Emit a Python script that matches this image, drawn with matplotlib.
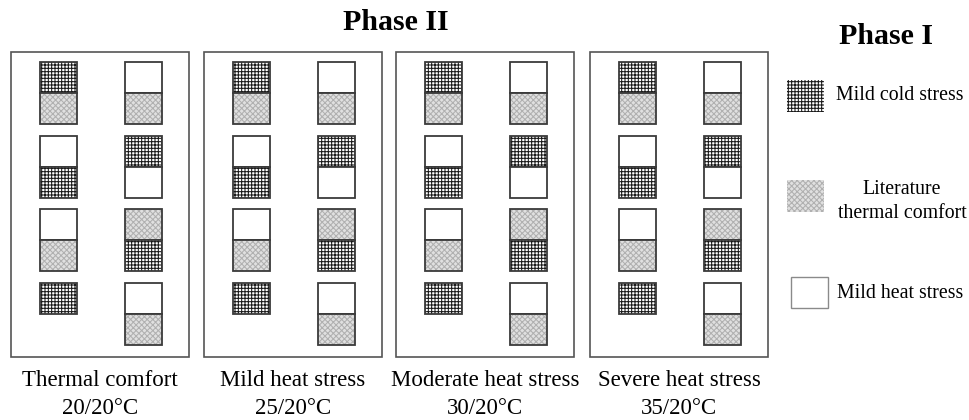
import matplotlib
matplotlib.use('Agg')
import matplotlib.pyplot as plt
from matplotlib.patches import Rectangle

plt.rcParams['font.family'] = ['Liberation Serif', 'DejaVu Serif']
plt.rcParams['hatch.linewidth'] = 0.75

# Phase II conditions (one panel each)
conditions = ['Thermal comfort', 'Mild heat stress', 'Moderate heat stress', 'Severe heat stress']
temps = ['20/20°C', '25/20°C', '30/20°C', '35/20°C']

# Phase I categories (legend)
phase1_keys = ['cold', 'comfort', 'heat']
phase1_labels = ['Mild cold stress', 'Literature\nthermal comfort', 'Mild heat stress']

# stacked blocks in each panel, top -> bottom
left_column = [['cold', 'comfort'], ['heat', 'cold'], ['heat', 'comfort'], ['cold']]
right_column = [['heat', 'comfort'], ['cold', 'heat'], ['comfort', 'cold'], ['heat', 'comfort']]

styles = {
    'cold': dict(facecolor='white', hatch='+++++', edgecolor='#1a1a1a'),
    'comfort': dict(facecolor='#e0e0e0', hatch='xxxxxx', edgecolor='#b0b0b0'),
    'heat': dict(facecolor='white', hatch=None, edgecolor='white'),
}

fig = plt.figure(figsize=(9.7, 4.2), dpi=100)
ax = fig.add_axes([0, 0, 1, 1])
ax.set_xlim(0, 970)
ax.set_ylim(420, 0)
ax.axis('off')


def block(x, y, w, h, kind, border='#3a3a3a', lw=1.3):
    st = styles[kind]
    ax.add_patch(Rectangle((x, y), w, h, facecolor=st['facecolor'], hatch=st['hatch'],
                           edgecolor=st['edgecolor'], linewidth=0))
    if border is not None:
        ax.add_patch(Rectangle((x, y), w, h, fill=False, edgecolor=border, linewidth=lw))


panel_x = [11, 204, 396, 590]
panel_w = 178
panel_top, panel_bot = 52, 357
row_tops = [62, 136, 209, 283]
cw, ch = 37, 31

for i, name in enumerate(conditions):
    px = panel_x[i]
    ax.add_patch(Rectangle((px, panel_top), panel_w, panel_bot - panel_top,
                           fill=False, edgecolor='#555555', linewidth=1.2))
    for col_off, column in [(29, left_column), (114, right_column)]:
        for r, stack in enumerate(column):
            for k, kind in enumerate(stack):
                block(px + col_off, row_tops[r] + k * ch, cw, ch, kind)
    cx = px + panel_w / 2
    ax.text(cx, 386, name, ha='center', va='baseline', fontsize=16.5)
    ax.text(cx, 414, temps[i], ha='center', va='baseline', fontsize=16.5)

ax.text(396, 22, 'Phase II', ha='center', va='center', fontsize=21.5, fontweight='bold')
ax.text(886, 37, 'Phase I', ha='center', va='center', fontsize=21.5, fontweight='bold')

leg_y = [80, 180, 277]
for key, lab, y in zip(phase1_keys, phase1_labels, leg_y):
    if key == 'heat':
        block(791, y, 37, 31, key, border='#8a8a8a', lw=1.0)
    else:
        block(787, y, 37, 32, key, border=None)
    if '\n' in lab:
        l1, l2 = lab.split('\n')
        ax.text(902, 189, l1, ha='center', va='center', fontsize=14.3)
        ax.text(902, 213, l2, ha='center', va='center', fontsize=14.3)
    else:
        ax.text(900, y + 16, lab, ha='center', va='center', fontsize=14.3)

fig.savefig('out.png', dpi=100)
